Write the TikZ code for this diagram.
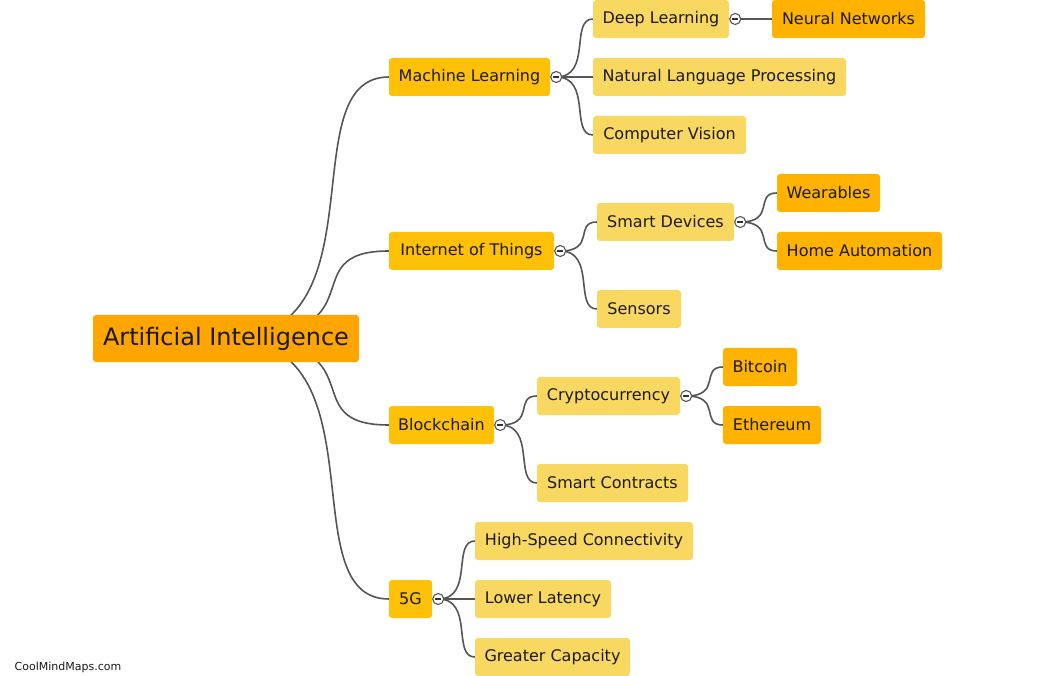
\documentclass[tikz,border=0pt]{standalone}
\usepackage{fontspec}
\setmainfont{DejaVu Sans}
\usetikzlibrary{backgrounds,calc}
\definecolor{rootc}{HTML}{FFA500}
\definecolor{lvone}{HTML}{FFC107}
\definecolor{lvtwo}{HTML}{F9D862}
\definecolor{lvthree}{HTML}{FFB300}
\definecolor{linec}{HTML}{555555}
\definecolor{txtc}{HTML}{1A1A1A}
\tikzset{
  box/.style={rounded corners=3pt, minimum height=38pt, inner sep=0pt, text=txtc,
    font=\fontsize{16}{19}\selectfont},
  rootbox/.style={box, fill=rootc, minimum height=47pt, font=\fontsize{24}{28}\selectfont},
  lone/.style={box, fill=lvone},
  ltwo/.style={box, fill=lvtwo},
  lthree/.style={box, fill=lvthree},
  conn/.style={draw=linec, line width=1.6pt},
  tog/.style={circle, draw=linec, line width=1.1pt, fill=white, minimum size=11pt, inner sep=0pt,
    path picture={\draw[line width=1.6pt, black!80] ([xshift=-3pt]path picture bounding box.center) -- ([xshift=3pt]path picture bounding box.center);}},
  curv/.style={to path={.. controls +(36,0) and +(-23,0) .. (\tikztotarget)}},
  rcurv/.style={to path={.. controls +(160,0) and +(-100,0) .. (\tikztotarget)}}
}
\begin{document}
\begin{tikzpicture}[x=1pt,y=-1pt]
\useasboundingbox (0,0) rectangle (1047,676);
% root
\node[rootbox, minimum width=266pt] (root) at (226,338.5) {Artificial Intelligence};
% level 1
\node[lone, minimum width=161pt] (ml) at (469.5,77) {Machine Learning};
\node[lone, minimum width=165pt] (iot) at (471.5,251) {Internet of Things};
\node[lone, minimum width=105pt] (bc) at (441.5,425) {Blockchain};
\node[lone, minimum width=43pt] (fg) at (410.5,599) {5G};
% level 2
\node[ltwo, minimum width=136pt] (dl) at (661,19) {Deep Learning};
\node[ltwo, minimum width=253pt] (nlp) at (719.5,77) {Natural Language Processing};
\node[ltwo, minimum width=153pt] (cv) at (669.5,135) {Computer Vision};
\node[ltwo, minimum width=137pt] (sd) at (665.5,222) {Smart Devices};
\node[ltwo, minimum width=84pt] (sen) at (639,309) {Sensors};
\node[ltwo, minimum width=143pt] (cc) at (608.5,396) {Cryptocurrency};
\node[ltwo, minimum width=151pt] (sc) at (612.5,483) {Smart Contracts};
\node[ltwo, minimum width=218pt] (hsc) at (584,541) {High-Speed Connectivity};
\node[ltwo, minimum width=136pt] (ll) at (543,599) {Lower Latency};
\node[ltwo, minimum width=155pt] (gc) at (552.5,657) {Greater Capacity};
% level 3
\node[lthree, minimum width=153pt] (nn) at (848.5,19) {Neural Networks};
\node[lthree, minimum width=103pt] (wb) at (828.5,193) {Wearables};
\node[lthree, minimum width=165pt] (ha) at (859.5,251) {Home Automation};
\node[lthree, minimum width=74pt] (btc) at (760,367) {Bitcoin};
\node[lthree, minimum width=98pt] (eth) at (772,425) {Ethereum};
% toggles
\node[tog] (tml) at ([xshift=6pt]ml.east) {};
\node[tog] (tiot) at ([xshift=6pt]iot.east) {};
\node[tog] (tbc) at ([xshift=6pt]bc.east) {};
\node[tog] (tfg) at ([xshift=6pt]fg.east) {};
\node[tog] (tdl) at ([xshift=6pt]dl.east) {};
\node[tog] (tsd) at ([xshift=6pt]sd.east) {};
\node[tog] (tcc) at ([xshift=6pt]cc.east) {};
% watermark
\node[anchor=west, inner sep=0pt, text=txtc, font=\fontsize{11}{13}\selectfont] (wm) at (14.5,667) {CoolMindMaps.com};
\begin{scope}[on background layer]
  \draw[conn] (root.center) to[rcurv] (ml.west);
  \draw[conn] (root.center) to[rcurv] (iot.west);
  \draw[conn] (root.center) to[rcurv] (bc.west);
  \draw[conn] (root.center) to[rcurv] (fg.west);
  \draw[conn] (tml.center) to[curv] (dl.west);
  \draw[conn] (tml.center) -- (nlp.west);
  \draw[conn] (tml.center) to[curv] (cv.west);
  \draw[conn] (tdl.center) -- (nn.west);
  \draw[conn] (tiot.center) to[curv] (sd.west);
  \draw[conn] (tiot.center) to[curv] (sen.west);
  \draw[conn] (tsd.center) to[curv] (wb.west);
  \draw[conn] (tsd.center) to[curv] (ha.west);
  \draw[conn] (tbc.center) to[curv] (cc.west);
  \draw[conn] (tbc.center) to[curv] (sc.west);
  \draw[conn] (tcc.center) to[curv] (btc.west);
  \draw[conn] (tcc.center) to[curv] (eth.west);
  \draw[conn] (tfg.center) to[curv] (hsc.west);
  \draw[conn] (tfg.center) -- (ll.west);
  \draw[conn] (tfg.center) to[curv] (gc.west);
\end{scope}
\end{tikzpicture}
\end{document}
